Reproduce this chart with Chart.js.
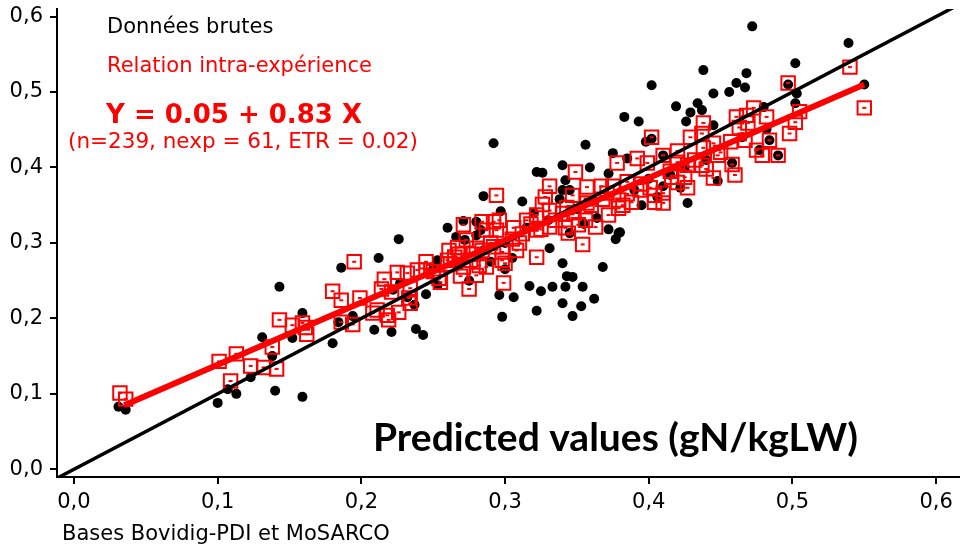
<!DOCTYPE html>
<html>
<head>
<meta charset="utf-8">
<script src="https://cdn.jsdelivr.net/npm/chart.js@4.4.3/dist/chart.umd.min.js"></script>
<style>
  html, body { margin: 0; padding: 0; background: #fff; }
  canvas { display: block; }
</style>
</head>
<body>
<canvas id="chart" width="960" height="546"></canvas>
<script>
// raw data: predicted (x) vs observed (y)
const rawPoints = [
  [0.031,0.083],[0.036,0.079],[0.100,0.088],[0.107,0.106],[0.113,0.100],[0.140,0.104],[0.159,0.096],
  [0.143,0.242],[0.159,0.207],[0.131,0.175],[0.152,0.174],[0.138,0.150],[0.123,0.122],
  [0.186,0.267],[0.180,0.167],[0.184,0.195],[0.194,0.203],
  [0.285,0.362],[0.260,0.320],[0.226,0.305],[0.212,0.280],[0.209,0.185],[0.221,0.182],[0.238,0.186],
  [0.243,0.178],[0.245,0.232],[0.253,0.244],[0.266,0.308],[0.271,0.329],[0.280,0.328],[0.297,0.342],
  [0.272,0.304],[0.283,0.317],[0.237,0.218],[0.232,0.228],[0.222,0.238],[0.227,0.247],[0.253,0.277],[0.280,0.310],
  [0.292,0.432],[0.322,0.394],[0.326,0.393],[0.340,0.403],[0.342,0.383],[0.312,0.355],[0.340,0.370],[0.338,0.358],
  [0.331,0.293],[0.340,0.273],[0.317,0.243],[0.325,0.236],[0.333,0.242],[0.343,0.256],[0.296,0.231],
  [0.306,0.228],[0.322,0.210],[0.340,0.220],[0.298,0.202],[0.305,0.280],
  [0.368,0.268],[0.347,0.255],[0.342,0.242],[0.354,0.242],[0.362,0.226],[0.353,0.216],[0.347,0.203],
  [0.377,0.305],[0.380,0.314],
  [0.438,0.529],[0.468,0.525],[0.461,0.512],[0.467,0.506],[0.456,0.500],[0.445,0.498],[0.402,0.509],
  [0.419,0.481],[0.434,0.485],[0.429,0.473],[0.437,0.476],[0.426,0.461],[0.383,0.467],[0.393,0.461],
  [0.398,0.434],[0.356,0.430],[0.375,0.419],[0.385,0.412],[0.359,0.400],[0.372,0.392],[0.345,0.370],
  [0.482,0.451],[0.503,0.498],[0.422,0.373],[0.427,0.353],[0.448,0.382],[0.458,0.406],[0.477,0.423],
  [0.364,0.333],[0.372,0.318],[0.379,0.313],[0.345,0.313],[0.445,0.456],[0.402,0.438],[0.410,0.416],
  [0.406,0.361],[0.484,0.436],[0.490,0.416],
  [0.472,0.587],[0.539,0.565],[0.502,0.538],[0.497,0.510],[0.550,0.510],[0.480,0.480],[0.502,0.485],[0.465,0.440],
  [0.250,0.265],[0.268,0.270],[0.285,0.290],[0.300,0.300],[0.315,0.320],[0.330,0.330],[0.350,0.345],
  [0.360,0.355],[0.390,0.370],[0.400,0.385],[0.415,0.390],[0.425,0.400],[0.440,0.410],[0.300,0.265],
  [0.275,0.250],[0.320,0.340],[0.395,0.350],[0.410,0.375],[0.355,0.325],[0.290,0.275]
];

// intra-experiment adjusted values
const intraPoints = [
  [0.032,0.101],[0.036,0.093],[0.101,0.143],[0.113,0.153],[0.123,0.137],[0.132,0.135],[0.141,0.133],
  [0.109,0.117],[0.138,0.162],[0.143,0.198],[0.152,0.191],[0.159,0.194],[0.161,0.188],[0.162,0.179],
  [0.180,0.236],[0.186,0.224],[0.294,0.363],[0.195,0.275],[0.199,0.227],[0.208,0.207],[0.194,0.192],
  [0.186,0.195],[0.216,0.252],[0.214,0.239],[0.221,0.235],[0.219,0.198],[0.226,0.208],[0.225,0.261],
  [0.232,0.260],[0.239,0.264],[0.245,0.275],[0.245,0.264],[0.233,0.227],[0.234,0.220],[0.254,0.253],
  [0.261,0.290],[0.271,0.324],[0.284,0.328],[0.287,0.317],[0.292,0.328],[0.273,0.304],[0.265,0.281],
  [0.271,0.268],[0.269,0.256],[0.275,0.239],[0.280,0.257],[0.287,0.268],[0.260,0.277],[0.267,0.294],
  [0.331,0.375],[0.328,0.361],[0.326,0.351],[0.331,0.343],[0.322,0.337],[0.315,0.330],[0.306,0.320],
  [0.296,0.330],[0.294,0.317],[0.280,0.293],[0.276,0.277],[0.284,0.290],[0.292,0.295],[0.298,0.277],
  [0.300,0.273],[0.310,0.300],[0.322,0.281],[0.322,0.317],[0.331,0.321],[0.340,0.339],[0.344,0.313],
  [0.299,0.247],[0.255,0.248],[0.234,0.240],[0.218,0.204],[0.211,0.211],[0.354,0.298],
  [0.497,0.512],[0.473,0.479],[0.482,0.467],[0.461,0.467],[0.468,0.469],[0.463,0.453],[0.438,0.459],
  [0.437,0.445],[0.429,0.440],[0.402,0.440],[0.445,0.432],[0.457,0.434],[0.467,0.436],[0.484,0.436],
  [0.498,0.445],[0.502,0.460],[0.475,0.423],[0.479,0.416],[0.490,0.416],[0.448,0.416],[0.438,0.426],
  [0.420,0.422],[0.410,0.416],[0.392,0.412],[0.378,0.406],[0.399,0.406],[0.420,0.407],[0.427,0.403],
  [0.437,0.403],[0.458,0.404],[0.460,0.390],[0.445,0.386],[0.425,0.387],[0.416,0.387],[0.349,0.394],
  [0.357,0.374],[0.367,0.375],[0.375,0.375],[0.385,0.381],[0.394,0.370],[0.401,0.373],[0.427,0.373],
  [0.404,0.363],[0.410,0.366],[0.404,0.354],[0.410,0.353],[0.388,0.354],[0.379,0.357],[0.371,0.366],
  [0.347,0.363],[0.343,0.347],[0.357,0.353],[0.379,0.346],[0.372,0.337],[0.363,0.321],[0.351,0.324],
  [0.342,0.320],[0.540,0.533],[0.550,0.479],[0.505,0.474],[0.469,0.459],
  [0.250,0.262],[0.262,0.272],[0.278,0.285],[0.290,0.300],[0.305,0.305],[0.312,0.312],[0.318,0.325],
  [0.335,0.330],[0.348,0.340],[0.360,0.350],[0.368,0.358],[0.385,0.365],[0.395,0.378],[0.415,0.395],
  [0.432,0.410],[0.450,0.420],[0.282,0.270],[0.298,0.288],[0.325,0.318],[0.356,0.330],[0.382,0.350],
  [0.420,0.380],[0.440,0.398],[0.268,0.285],[0.308,0.290]
];

// fitted intra-experiment relation and the 1:1 line
const fitLine = [[0.035,0.085],[0.55,0.51]];
const identityLine = [[-0.02,-0.02],[0.63,0.63]];

const xTicks = [0, 0.1, 0.2, 0.3, 0.4, 0.5, 0.6];
const yTicks = [0, 0.1, 0.2, 0.3, 0.4, 0.5, 0.6];

const toXY = arr => arr.map(p => ({ x: p[0], y: p[1] }));
const fmt = v => v.toFixed(1).replace('.', ',');

const notes = {
  id: 'notes',
  afterDraw(chart) {
    const ctx = chart.ctx;
    ctx.save();
    ctx.textBaseline = 'alphabetic';
    ctx.textAlign = 'left';
    ctx.fillStyle = '#000';
    ctx.font = '21px "DejaVu Sans"';
    ctx.fillText('Données brutes', 107, 33);
    ctx.fillStyle = '#ff0000';
    ctx.fillText('Relation intra-expérience', 107, 72);
    ctx.font = 'bold 26px "DejaVu Sans"';
    ctx.fillText('Y = 0.05 + 0.83 X', 106, 123);
    ctx.font = '21.5px "DejaVu Sans"';
    ctx.fillText('(n=239, nexp = 61, ETR = 0.02)', 68, 148);
    ctx.fillStyle = '#000';
    ctx.font = 'bold 39px Lato';
    ctx.fillText('Predicted values (gN/kgLW)', 373, 451);
    ctx.font = '21px "DejaVu Sans"';
    ctx.fillText('Bases Bovidig-PDI et MoSARCO', 62, 540);
    ctx.restore();
  }
};

new Chart(document.getElementById('chart'), {
  type: 'scatter',
  data: {
    datasets: [
      {
        label: 'identity',
        type: 'line',
        data: toXY(identityLine),
        borderColor: '#000',
        borderWidth: 3.5,
        pointRadius: 0,
        order: 1
      },
      {
        label: 'fit',
        type: 'line',
        data: toXY(fitLine),
        borderColor: '#ff0000',
        borderWidth: 6,
        pointRadius: 0,
        order: 0
      },
      {
        label: 'Relation intra-expérience',
        data: toXY(intraPoints),
        pointStyle: 'rect',
        pointRadius: 9.5,
        backgroundColor: 'rgba(0,0,0,0)',
        borderColor: '#ff0000',
        borderWidth: 2,
        order: 2
      },
      {
        label: 'dash',
        data: toXY(intraPoints),
        pointStyle: 'line',
        pointRadius: 2,
        borderColor: '#ff0000',
        borderWidth: 2,
        order: 3
      },
      {
        label: 'Données brutes',
        data: toXY(rawPoints),
        pointStyle: 'circle',
        pointRadius: 5,
        backgroundColor: '#000',
        borderColor: '#000',
        borderWidth: 0,
        order: 4
      }
    ]
  },
  options: {
    responsive: false,
    animation: false,
    events: [],
    layout: { autoPadding: false, padding: { top: 9, right: 0, left: 0, bottom: 0 } },
    plugins: {
      legend: { display: false },
      tooltip: { enabled: false }
    },
    scales: {
      x: {
        type: 'linear',
        min: -0.0118,
        max: 0.6166,
        afterBuildTicks: s => { s.ticks = xTicks.map(v => ({ value: v })); },
        afterFit: s => { s.height = 69; s.paddingLeft = 0; s.paddingRight = 0; },
        border: { display: true, color: '#000', width: 2 },
        grid: { drawOnChartArea: false, drawTicks: true, tickLength: 7, color: '#000', lineWidth: 2 },
        ticks: {
          color: '#000',
          padding: 6,
          maxRotation: 0,
          font: { family: 'DejaVu Sans', size: 21 },
          callback: v => fmt(v)
        }
      },
      y: {
        type: 'linear',
        min: -0.0102,
        max: 0.61,
        afterBuildTicks: s => { s.ticks = yTicks.map(v => ({ value: v })); },
        afterFit: s => { s.width = 57; s.paddingTop = 0; s.paddingBottom = 0; },
        border: { display: true, color: '#000', width: 2 },
        grid: { drawOnChartArea: false, drawTicks: true, tickLength: 7, color: '#000', lineWidth: 2 },
        ticks: {
          color: '#000',
          padding: 7,
          font: { family: 'DejaVu Sans', size: 21 },
          callback: v => fmt(v)
        }
      }
    }
  },
  plugins: [notes]
});
</script>
</body>
</html>
